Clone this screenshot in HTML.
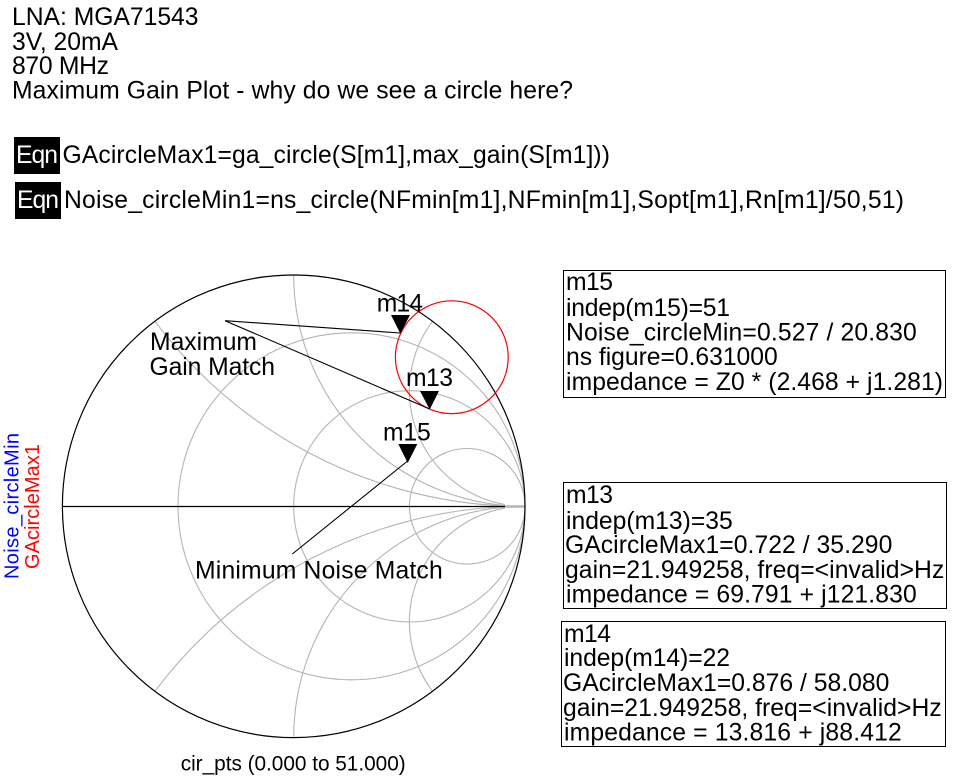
<!DOCTYPE html>
<html><head><meta charset="utf-8"><style>
html,body{margin:0;padding:0;background:#fff;width:955px;height:782px;overflow:hidden}
svg{display:block}
text{font-family:"Liberation Sans",Arial,sans-serif;font-size:24.7px;fill:#000}
.s{font-size:20.8px}
.v{font-size:20px}
</style></head><body>
<svg width="955" height="782" viewBox="0 0 955 782" xmlns="http://www.w3.org/2000/svg">
<text x="12" y="25" textLength="186.5">LNA: MGA71543</text>
<text x="12" y="50" textLength="106">3V, 20mA</text>
<text x="12" y="74" textLength="97">870 MHz</text>
<text x="12" y="98.5" textLength="561">Maximum Gain Plot - why do we see a circle here?</text>

<rect x="14" y="137" width="46" height="37" fill="#000"/>
<text x="16" y="163" textLength="42" style="fill:#fff">Eqn</text>
<text x="62.5" y="163" textLength="547.5">GAcircleMax1=ga_circle(S[m1],max_gain(S[m1]))</text>
<rect x="15" y="182" width="46" height="37" fill="#000"/>
<text x="17" y="208" textLength="42" style="fill:#fff">Eqn</text>
<text x="64" y="208" textLength="840">Noise_circleMin1=ns_circle(NFmin[m1],NFmin[m1],Sopt[m1],Rn[m1]/50,51)</text>

<g fill="none" stroke="#b4b4b4" stroke-width="1.1">
<circle cx="351.5" cy="506.3" r="173.5"/>
<circle cx="409.35" cy="506.3" r="115.65"/>
<circle cx="467.2" cy="506.3" r="57.8"/>
<path d="M154.9 321.3A462.6 462.6 0 0 0 505 506"/>
<path d="M293.7 275A231.3 231.3 0 0 0 505 505.5"/>
<path d="M432.5 321.3A115.65 115.65 0 0 0 505 504.5"/>
<path d="M154.9 691.3A462.6 462.6 0 0 1 505 506.6"/>
<path d="M293.7 737.6A231.3 231.3 0 0 1 505 507.1"/>
<path d="M432.5 691.3A115.65 115.65 0 0 1 505 508.1"/>
<path d="M505 506.5H525" stroke-width="2.4"/>
</g>
<circle cx="293.7" cy="506.3" r="231.3" fill="none" stroke="#000" stroke-width="1.2"/>
<path d="M62.4 506.5H505" stroke="#000" stroke-width="1.2" fill="none"/>
<circle cx="451.8" cy="357.2" r="56.4" fill="none" stroke="#f00" stroke-width="1.2"/>

<path d="M225 320.7L400.3 333M225 320.7L429.7 409M407 461.5L292.3 554" stroke="#000" stroke-width="1.1" fill="none"/>
<path d="M391 315H410L400.3 333.5Z M420 391H439L429.7 409.5Z M398.3 444H417.3L407.7 463Z" fill="#000"/>

<text x="376.7" y="311.7" textLength="46.3">m14</text>
<text x="406" y="386" textLength="47">m13</text>
<text x="383" y="440.7" textLength="47.7">m15</text>
<text x="150" y="350" textLength="107">Maximum</text>
<text x="149.5" y="375" textLength="125.5">Gain Match</text>
<text x="195" y="578.7" textLength="247.7">Minimum Noise Match</text>
<text class="s" x="180.7" y="770.7" textLength="225">cir_pts (0.000 to 51.000)</text>

<text class="v" transform="translate(18.5 579) rotate(-90)" textLength="146" style="fill:#00f">Noise_circleMin</text>
<text class="v" transform="translate(39 569) rotate(-90)" textLength="125" style="fill:#f00">GAcircleMax1</text>

<g fill="none" stroke="#000" stroke-width="1">
<rect x="563.5" y="270.5" width="382" height="127"/>
<rect x="563.5" y="482.5" width="383" height="126"/>
<rect x="561.5" y="621.5" width="384" height="125"/>
</g>
<text x="566" y="290" textLength="47">m15</text>
<text x="566" y="316" textLength="164">indep(m15)=51</text>
<text x="566" y="340.5" textLength="350.7">Noise_circleMin=0.527 / 20.830</text>
<text x="566" y="365" textLength="211.7">ns figure=0.631000</text>
<text x="566" y="390" textLength="377">impedance = Z0 * (2.468 + j1.281)</text>

<text x="566" y="503" textLength="47">m13</text>
<text x="566" y="529" textLength="166.7">indep(m13)=35</text>
<text x="565" y="553" textLength="327.3">GAcircleMax1=0.722 / 35.290</text>
<text x="565" y="578" textLength="379.3">gain=21.949258, freq=&lt;invalid&gt;Hz</text>
<text x="566" y="602.5" textLength="350.7">impedance = 69.791 + j121.830</text>

<text x="564" y="642" textLength="47">m14</text>
<text x="564" y="666" textLength="166">indep(m14)=22</text>
<text x="563" y="691" textLength="326.3">GAcircleMax1=0.876 / 58.080</text>
<text x="563" y="716" textLength="378.7">gain=21.949258, freq=&lt;invalid&gt;Hz</text>
<text x="564" y="740.5" textLength="337.7">impedance = 13.816 + j88.412</text>
</svg>
</body></html>
